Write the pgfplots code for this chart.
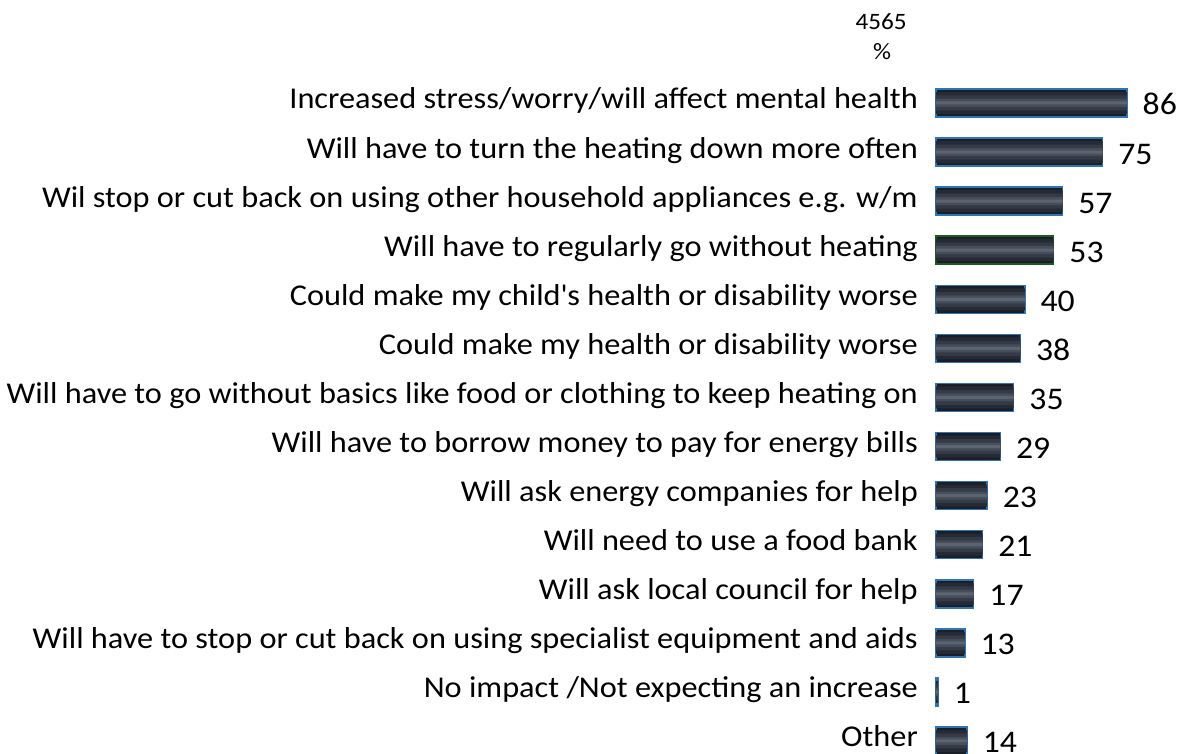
\documentclass[border=0pt]{standalone}
\usepackage{pgfplots}
\usepackage{pgfplotstable}
\pgfplotsset{compat=1.18}
\usepackage{fontspec}
\setmainfont{Carlito}[FakeStretch=1.07]
\definecolor{barbase}{HTML}{1A1E26}
\definecolor{band1}{HTML}{252A34}
\definecolor{band2}{HTML}{343A46}
\definecolor{band3}{HTML}{474E5B}
\definecolor{band4}{HTML}{5C6472}
\definecolor{edgeblue}{HTML}{2E75B6}
\definecolor{edgegreen}{HTML}{1E5A1E}
\pgfplotstableread{
y v
0 86
1 75
2 57
3 53
4 40
5 38
6 35
7 29
8 23
9 21
10 17
11 13
12 1
13 14
}\datatable
\begin{document}
\begin{tikzpicture}
\begin{axis}[
  at={(0pt,0pt)}, anchor=south west,
  scale only axis,
  width=222.1pt, height=675.6pt,
  xmin=0, xmax=100,
  ymin=-0.5, ymax=13.265,
  y dir=reverse,
  axis line style={draw=none},
  hide x axis,
  ytick={0,...,13},
  yticklabels={
    Increased stress/worry/will affect mental health,
    Will have to turn the heating down more often,
    Wil stop or cut back on using other household appliances e.g. w/m,
    Will have to regularly go without heating,
    Could make my child\textquotesingle s health or disability worse,
    Could make my health or disability worse,
    Will have to go without basics like food or clothing to keep heating on,
    Will have to borrow money to pay for energy bills,
    Will ask energy companies for help,
    Will need to use a food bank,
    Will ask local council for help,
    Will have to stop or cut back on using specialist equipment and aids,
    No impact /Not expecting an increase,
    Other},
  major tick length=0pt,
  yticklabel style={font=\fontsize{30.2}{34}\selectfont, inner sep=0pt, anchor=base east, xshift=-18pt, yshift=-6pt},
  xbar, bar shift=0pt,
  /pgf/number format/assume math mode=true,
  clip=false,
]
\addplot[xbar, bar shift=0pt, bar width=28pt, fill=barbase, draw=edgeblue, line width=1.5pt,
  nodes near coords,
  every node near coord/.append style={font=\fontsize{31.5}{34}\selectfont, inner sep=0pt, anchor=base west, xshift=15pt, yshift=-12pt, text=black}]
  table[x=v, y=y] {\datatable};
\addplot[xbar, bar shift=0pt, bar width=28pt, fill=barbase, draw=edgegreen, line width=1.5pt] coordinates {(53,3)};
\addplot[xbar, bar shift=0pt, bar width=22pt, fill=band1, draw=none] table[x=v, y=y] {\datatable};
\addplot[xbar, bar shift=0pt, bar width=15pt, fill=band2, draw=none] table[x=v, y=y] {\datatable};
\addplot[xbar, bar shift=0pt, bar width=8pt, fill=band3, draw=none] table[x=v, y=y] {\datatable};
\addplot[xbar, bar shift=0pt, bar width=3pt, fill=band4, draw=none] table[x=v, y=y] {\datatable};
\end{axis}
\node[font=\fontsize{23.5}{26}\selectfont, inner sep=0pt] at (-55pt,732pt) {4565};
\node[font=\fontsize{23.5}{26}\selectfont, inner sep=0pt] at (-54pt,702pt) {\%};
\pgfresetboundingbox
\useasboundingbox (-936pt,0pt) rectangle (242pt,754pt);
\end{tikzpicture}
\end{document}
